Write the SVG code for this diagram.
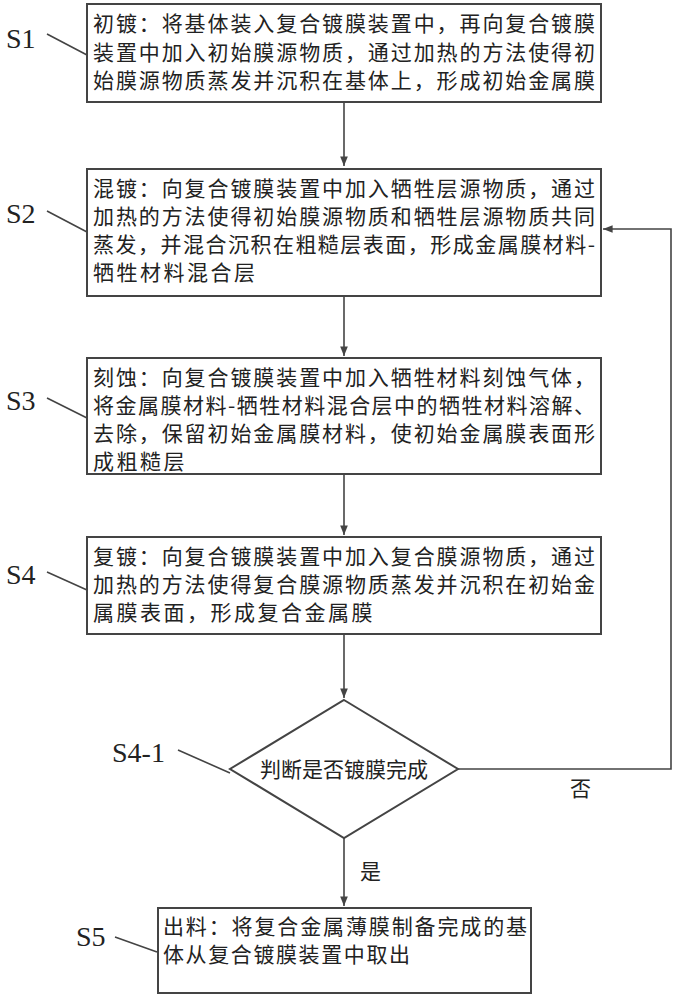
<svg xmlns="http://www.w3.org/2000/svg" width="676" height="1000" viewBox="0 0 676 1000">
<style>
.b{fill:#fff;stroke:#444;stroke-width:2}
.t{font-family:"Noto Sans CJK SC","Liberation Sans",sans-serif;font-size:21px;fill:#222}
.s{letter-spacing:2.5px}
.l{font-family:"Liberation Serif",serif;font-size:28px;fill:#222}
.c{fill:none;stroke:#444;stroke-width:1.6}
</style>
<defs><marker id="a" viewBox="0 0 10 10" refX="10" refY="5" markerWidth="6" markerHeight="6" orient="auto"><path d="M0,1L10,5L0,9z" fill="#444"/></marker></defs>
<g id="connectors">
<path class="c" d="M344,102V166" marker-end="url(#a)"/>
<path class="c" d="M344,296V356" marker-end="url(#a)"/>
<path class="c" d="M344,474V535" marker-end="url(#a)"/>
<path class="c" d="M344,634V698" marker-end="url(#a)"/>
<path class="c" d="M344,838V906" marker-end="url(#a)"/>
<path class="c" d="M458,769H671V229H603" marker-end="url(#a)"/>
<path class="c" d="M47,34L87,55M47,211L87,232M47,398L87,418M47,572L87,590M178,750L230,773M115,937L157,952"/>
<text class="t" x="570" y="796">否</text>
<text class="t" x="360" y="879">是</text>
</g>
<g id="S1"><text class="l" x="6" y="48">S1</text><rect class="b" x="87" y="4" width="514" height="98"/>
<text class="t" x="93" y="31" textLength="502">初镀：将基体装入复合镀膜装置中，再向复合镀膜</text>
<text class="t" x="93" y="60" textLength="502">装置中加入初始膜源物质，通过加热的方法使得初</text>
<text class="t" x="93" y="88" textLength="502">始膜源物质蒸发并沉积在基体上，形成初始金属膜</text></g>
<g id="S2"><text class="l" x="6" y="223">S2</text><rect class="b" x="87" y="169" width="514" height="127"/>
<text class="t" x="93" y="196" textLength="502">混镀：向复合镀膜装置中加入牺牲层源物质，通过</text>
<text class="t" x="93" y="224" textLength="502">加热的方法使得初始膜源物质和牺牲层源物质共同</text>
<text class="t" x="93" y="252" textLength="502">蒸发，并混合沉积在粗糙层表面，形成金属膜材料-</text>
<text class="t s" x="93" y="280">牺牲材料混合层</text></g>
<g id="S3"><text class="l" x="6" y="410">S3</text><rect class="b" x="87" y="358" width="514" height="116"/>
<text class="t" x="93" y="385" textLength="502">刻蚀：向复合镀膜装置中加入牺牲材料刻蚀气体，</text>
<text class="t" x="93" y="413" textLength="502">将金属膜材料-牺牲材料混合层中的牺牲材料溶解、</text>
<text class="t" x="93" y="441" textLength="502">去除，保留初始金属膜材料，使初始金属膜表面形</text>
<text class="t s" x="93" y="469">成粗糙层</text></g>
<g id="S4"><text class="l" x="6" y="584">S4</text><rect class="b" x="87" y="537" width="514" height="97"/>
<text class="t" x="93" y="564" textLength="502">复镀：向复合镀膜装置中加入复合膜源物质，通过</text>
<text class="t" x="93" y="592" textLength="502">加热的方法使得复合膜源物质蒸发并沉积在初始金</text>
<text class="t s" x="93" y="620">属膜表面，形成复合金属膜</text></g>
<g id="S4-1"><text class="l" x="112" y="762">S4-1</text><polygon class="b" points="344,700 458,769 344,838 230,769"/>
<text class="t" x="344" y="777" text-anchor="middle">判断是否镀膜完成</text></g>
<g id="S5"><text class="l" x="76" y="946">S5</text><rect class="b" x="158" y="908" width="373" height="85"/>
<text class="t" x="163" y="934" textLength="364">出料：将复合金属薄膜制备完成的基</text>
<text class="t" x="163" y="962" textLength="247">体从复合镀膜装置中取出</text></g>
</svg>
